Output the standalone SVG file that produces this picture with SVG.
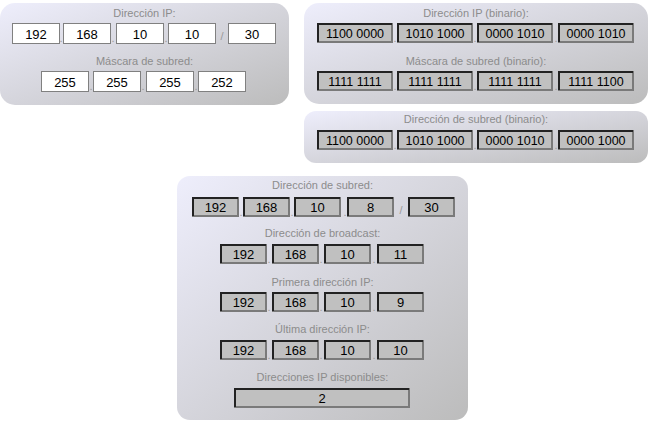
<svg xmlns="http://www.w3.org/2000/svg" width="655" height="422" viewBox="0 0 655 422">
<style>
.lbl{font-family:"Liberation Sans",Arial,sans-serif;font-size:11px;fill:#8c8c8c;text-anchor:middle}
.num{font-family:"Liberation Sans",Arial,sans-serif;font-size:13px;fill:#000;text-anchor:middle}
.bin{font-family:"Liberation Sans",Arial,sans-serif;font-size:12.5px;fill:#000;text-anchor:middle}
.dot{font-family:"Liberation Sans",Arial,sans-serif;font-size:11px;fill:#999;text-anchor:middle}
.in{fill:#fff;stroke:#808080;stroke-width:1}
.ob{fill:#c0c0c0;stroke:#7a7a7a;stroke-width:2}
.tl{fill:none;stroke:#222;stroke-width:2}
.panel{fill:url(#g)}
</style>
<defs>
<linearGradient id="g" x1="0" y1="0" x2="1" y2="1">
<stop offset="0" stop-color="#eeeefc"/>
<stop offset="1" stop-color="#bcbcbc"/>
</linearGradient>
</defs>
<g id="panel-ip">
<rect class="panel" x="0" y="3" width="289" height="102" rx="15"/>
<text class="lbl" x="144.5" y="17">Dirección IP:</text>
<rect class="in" x="12.5" y="23.5" width="47" height="20"/><text class="num" x="36" y="38.5">192</text>
<text class="dot" x="61" y="42">.</text>
<rect class="in" x="63.5" y="23.5" width="47" height="20"/><text class="num" x="87" y="38.5">168</text>
<text class="dot" x="113" y="42">.</text>
<rect class="in" x="116.5" y="23.5" width="47" height="20"/><text class="num" x="140" y="38.5">10</text>
<text class="dot" x="166" y="42">.</text>
<rect class="in" x="168.5" y="23.5" width="47" height="20"/><text class="num" x="192" y="38.5">10</text>
<text class="dot" x="222" y="40">/</text>
<rect class="in" x="228.5" y="23.5" width="47" height="20"/><text class="num" x="252" y="38.5">30</text>
<text class="lbl" x="144.5" y="65">Máscara de subred:</text>
<rect class="in" x="41.5" y="71.5" width="47" height="20"/><text class="num" x="65" y="86.5">255</text>
<text class="dot" x="91" y="90">.</text>
<rect class="in" x="93.5" y="71.5" width="47" height="20"/><text class="num" x="117" y="86.5">255</text>
<text class="dot" x="143" y="90">.</text>
<rect class="in" x="146.5" y="71.5" width="47" height="20"/><text class="num" x="170" y="86.5">255</text>
<text class="dot" x="196" y="90">.</text>
<rect class="in" x="198.5" y="71.5" width="47" height="20"/><text class="num" x="222" y="86.5">252</text>
</g>
<g id="panel-bin">
<rect class="panel" x="304" y="3" width="344" height="101" rx="15"/>
<text class="lbl" x="476" y="17">Dirección IP (binario):</text>
<rect class="ob" x="318" y="24" width="74" height="18"/><polyline class="tl" points="318,42 318,24 392,24"/><text class="bin" x="355" y="38">1100 0000</text>
<text class="dot" x="395" y="42">.</text>
<rect class="ob" x="398" y="24" width="74" height="18"/><polyline class="tl" points="398,42 398,24 472,24"/><text class="bin" x="435" y="38">1010 1000</text>
<text class="dot" x="475" y="42">.</text>
<rect class="ob" x="478" y="24" width="74" height="18"/><polyline class="tl" points="478,42 478,24 552,24"/><text class="bin" x="515" y="38">0000 1010</text>
<text class="dot" x="556" y="42">.</text>
<rect class="ob" x="559" y="24" width="74" height="18"/><polyline class="tl" points="559,42 559,24 633,24"/><text class="bin" x="596" y="38">0000 1010</text>
<text class="lbl" x="476" y="65">Máscara de subred (binario):</text>
<rect class="ob" x="318" y="72" width="74" height="18"/><polyline class="tl" points="318,90 318,72 392,72"/><text class="bin" x="355" y="86">1111 1111</text>
<text class="dot" x="395" y="90">.</text>
<rect class="ob" x="398" y="72" width="74" height="18"/><polyline class="tl" points="398,90 398,72 472,72"/><text class="bin" x="435" y="86">1111 1111</text>
<text class="dot" x="475" y="90">.</text>
<rect class="ob" x="478" y="72" width="74" height="18"/><polyline class="tl" points="478,90 478,72 552,72"/><text class="bin" x="515" y="86">1111 1111</text>
<text class="dot" x="556" y="90">.</text>
<rect class="ob" x="559" y="72" width="74" height="18"/><polyline class="tl" points="559,90 559,72 633,72"/><text class="bin" x="596" y="86">1111 1100</text>
</g>
<g id="panel-subnet-bin">
<rect class="panel" x="304" y="111" width="344" height="52" rx="12"/>
<text class="lbl" x="476" y="123">Dirección de subred (binario):</text>
<rect class="ob" x="318" y="131" width="74" height="18"/><polyline class="tl" points="318,149 318,131 392,131"/><text class="bin" x="355" y="145">1100 0000</text>
<text class="dot" x="395" y="149">.</text>
<rect class="ob" x="398" y="131" width="74" height="18"/><polyline class="tl" points="398,149 398,131 472,131"/><text class="bin" x="435" y="145">1010 1000</text>
<text class="dot" x="475" y="149">.</text>
<rect class="ob" x="478" y="131" width="74" height="18"/><polyline class="tl" points="478,149 478,131 552,131"/><text class="bin" x="515" y="145">0000 1010</text>
<text class="dot" x="556" y="149">.</text>
<rect class="ob" x="559" y="131" width="74" height="18"/><polyline class="tl" points="559,149 559,131 633,131"/><text class="bin" x="596" y="145">0000 1000</text>
</g>
<g id="panel-results">
<rect class="panel" x="177" y="176" width="291" height="244" rx="13"/>
<text class="lbl" x="322.5" y="189">Dirección de subred:</text>
<rect class="ob" x="193" y="198" width="45" height="18"/><polyline class="tl" points="193,216 193,198 238,198"/><text class="num" x="215.5" y="212">192</text>
<text class="dot" x="241" y="216">.</text>
<rect class="ob" x="244" y="198" width="45" height="18"/><polyline class="tl" points="244,216 244,198 289,198"/><text class="num" x="266.5" y="212">168</text>
<text class="dot" x="292" y="216">.</text>
<rect class="ob" x="295" y="198" width="45" height="18"/><polyline class="tl" points="295,216 295,198 340,198"/><text class="num" x="317.5" y="212">10</text>
<text class="dot" x="345" y="216">.</text>
<rect class="ob" x="348" y="198" width="45" height="18"/><polyline class="tl" points="348,216 348,198 393,198"/><text class="num" x="370.5" y="212">8</text>
<text class="dot" x="401" y="214">/</text>
<rect class="ob" x="409" y="198" width="45" height="18"/><polyline class="tl" points="409,216 409,198 454,198"/><text class="num" x="431.5" y="212">30</text>
<text class="lbl" x="322.5" y="237">Dirección de broadcast:</text>
<rect class="ob" x="221" y="245" width="45" height="18"/><polyline class="tl" points="221,263 221,245 266,245"/><text class="num" x="243.5" y="259">192</text>
<text class="dot" x="269" y="263">.</text>
<rect class="ob" x="273" y="245" width="45" height="18"/><polyline class="tl" points="273,263 273,245 318,245"/><text class="num" x="295.5" y="259">168</text>
<text class="dot" x="321" y="263">.</text>
<rect class="ob" x="325" y="245" width="45" height="18"/><polyline class="tl" points="325,263 325,245 370,245"/><text class="num" x="347.5" y="259">10</text>
<text class="dot" x="374" y="263">.</text>
<rect class="ob" x="378" y="245" width="45" height="18"/><polyline class="tl" points="378,263 378,245 423,245"/><text class="num" x="400.5" y="259">11</text>
<text class="lbl" x="322.5" y="286">Primera dirección IP:</text>
<rect class="ob" x="221" y="293" width="45" height="18"/><polyline class="tl" points="221,311 221,293 266,293"/><text class="num" x="243.5" y="307">192</text>
<text class="dot" x="269" y="311">.</text>
<rect class="ob" x="273" y="293" width="45" height="18"/><polyline class="tl" points="273,311 273,293 318,293"/><text class="num" x="295.5" y="307">168</text>
<text class="dot" x="321" y="311">.</text>
<rect class="ob" x="325" y="293" width="45" height="18"/><polyline class="tl" points="325,311 325,293 370,293"/><text class="num" x="347.5" y="307">10</text>
<text class="dot" x="374" y="311">.</text>
<rect class="ob" x="378" y="293" width="45" height="18"/><polyline class="tl" points="378,311 378,293 423,293"/><text class="num" x="400.5" y="307">9</text>
<text class="lbl" x="322.5" y="333">Última dirección IP:</text>
<rect class="ob" x="221" y="341" width="45" height="18"/><polyline class="tl" points="221,359 221,341 266,341"/><text class="num" x="243.5" y="355">192</text>
<text class="dot" x="269" y="359">.</text>
<rect class="ob" x="273" y="341" width="45" height="18"/><polyline class="tl" points="273,359 273,341 318,341"/><text class="num" x="295.5" y="355">168</text>
<text class="dot" x="321" y="359">.</text>
<rect class="ob" x="325" y="341" width="45" height="18"/><polyline class="tl" points="325,359 325,341 370,341"/><text class="num" x="347.5" y="355">10</text>
<text class="dot" x="374" y="359">.</text>
<rect class="ob" x="378" y="341" width="45" height="18"/><polyline class="tl" points="378,359 378,341 423,341"/><text class="num" x="400.5" y="355">10</text>
<text class="lbl" x="322.5" y="381">Direcciones IP disponibles:</text>
<rect class="ob" x="235" y="389" width="174" height="18"/><polyline class="tl" points="235,407 235,389 409,389"/><text class="num" x="322" y="403">2</text>
</g>
</svg>
